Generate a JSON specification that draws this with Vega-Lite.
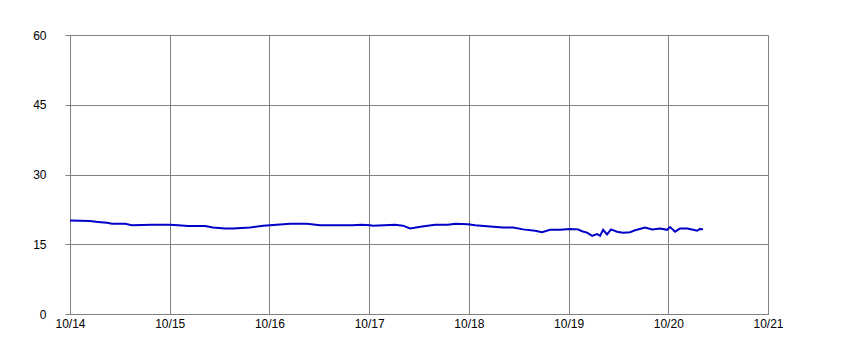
{
  "$schema": "https://vega.github.io/schema/vega-lite/v6.json",
  "width": 698,
  "height": 279,
  "autosize": {"type": "none"},
  "padding": {"left": 70, "top": 35, "right": 100, "bottom": 35},
  "background": "white",
  "config": {
    "view": {"stroke": null},
    "axis": {"labelFont": "Liberation Sans", "labelFontSize": 12, "labelColor": "#000000"}
  },
  "data": {
    "values": [
      {"t": "2021-10-14T00:00:00Z", "v": 20.1},
      {"t": "2021-10-14T04:49:00Z", "v": 20.0},
      {"t": "2021-10-14T06:44:00Z", "v": 19.8},
      {"t": "2021-10-14T08:55:00Z", "v": 19.6},
      {"t": "2021-10-14T10:07:00Z", "v": 19.4},
      {"t": "2021-10-14T13:15:00Z", "v": 19.4},
      {"t": "2021-10-14T14:55:00Z", "v": 19.1},
      {"t": "2021-10-14T19:44:00Z", "v": 19.2},
      {"t": "2021-10-15T00:00:00Z", "v": 19.2},
      {"t": "2021-10-15T02:00:00Z", "v": 19.1},
      {"t": "2021-10-15T04:25:00Z", "v": 18.9},
      {"t": "2021-10-15T08:30:00Z", "v": 18.9},
      {"t": "2021-10-15T10:25:00Z", "v": 18.6},
      {"t": "2021-10-15T13:19:00Z", "v": 18.4},
      {"t": "2021-10-15T15:14:00Z", "v": 18.4},
      {"t": "2021-10-15T19:19:00Z", "v": 18.6},
      {"t": "2021-10-15T22:28:00Z", "v": 19.0},
      {"t": "2021-10-16T00:09:00Z", "v": 19.1},
      {"t": "2021-10-16T04:58:00Z", "v": 19.4},
      {"t": "2021-10-16T09:03:00Z", "v": 19.4},
      {"t": "2021-10-16T12:11:00Z", "v": 19.1},
      {"t": "2021-10-16T17:00:00Z", "v": 19.1},
      {"t": "2021-10-16T19:53:00Z", "v": 19.1},
      {"t": "2021-10-16T22:17:00Z", "v": 19.2},
      {"t": "2021-10-17T00:13:00Z", "v": 19.1},
      {"t": "2021-10-17T00:56:00Z", "v": 19.0},
      {"t": "2021-10-17T06:14:00Z", "v": 19.2},
      {"t": "2021-10-17T08:10:00Z", "v": 19.0},
      {"t": "2021-10-17T09:50:00Z", "v": 18.4},
      {"t": "2021-10-17T12:45:00Z", "v": 18.8},
      {"t": "2021-10-17T15:52:00Z", "v": 19.2},
      {"t": "2021-10-17T18:59:00Z", "v": 19.2},
      {"t": "2021-10-17T20:41:00Z", "v": 19.4},
      {"t": "2021-10-17T23:48:00Z", "v": 19.3},
      {"t": "2021-10-18T01:29:00Z", "v": 19.1},
      {"t": "2021-10-18T05:07:00Z", "v": 18.8},
      {"t": "2021-10-18T08:14:00Z", "v": 18.6},
      {"t": "2021-10-18T10:38:00Z", "v": 18.6},
      {"t": "2021-10-18T13:03:00Z", "v": 18.2},
      {"t": "2021-10-18T15:56:00Z", "v": 17.9},
      {"t": "2021-10-18T17:37:00Z", "v": 17.6},
      {"t": "2021-10-18T19:32:00Z", "v": 18.1},
      {"t": "2021-10-18T21:57:00Z", "v": 18.1},
      {"t": "2021-10-19T00:22:00Z", "v": 18.3},
      {"t": "2021-10-19T02:17:00Z", "v": 18.2},
      {"t": "2021-10-19T03:14:00Z", "v": 17.8},
      {"t": "2021-10-19T04:28:00Z", "v": 17.5},
      {"t": "2021-10-19T05:40:00Z", "v": 16.8},
      {"t": "2021-10-19T06:52:00Z", "v": 17.2},
      {"t": "2021-10-19T07:35:00Z", "v": 16.8},
      {"t": "2021-10-19T08:18:00Z", "v": 18.1},
      {"t": "2021-10-19T09:16:00Z", "v": 17.1},
      {"t": "2021-10-19T10:13:00Z", "v": 18.2},
      {"t": "2021-10-19T11:40:00Z", "v": 17.7},
      {"t": "2021-10-19T13:07:00Z", "v": 17.5},
      {"t": "2021-10-19T14:48:00Z", "v": 17.6},
      {"t": "2021-10-19T16:00:00Z", "v": 18.0},
      {"t": "2021-10-19T18:25:00Z", "v": 18.6},
      {"t": "2021-10-19T20:07:00Z", "v": 18.2},
      {"t": "2021-10-19T22:02:00Z", "v": 18.4},
      {"t": "2021-10-19T23:43:00Z", "v": 18.1},
      {"t": "2021-10-20T00:26:00Z", "v": 18.7},
      {"t": "2021-10-20T01:38:00Z", "v": 17.7},
      {"t": "2021-10-20T02:50:00Z", "v": 18.4},
      {"t": "2021-10-20T04:32:00Z", "v": 18.4},
      {"t": "2021-10-20T05:58:00Z", "v": 18.1},
      {"t": "2021-10-20T06:56:00Z", "v": 17.9},
      {"t": "2021-10-20T07:39:00Z", "v": 18.3},
      {"t": "2021-10-20T08:22:00Z", "v": 18.2}
    ]
  },
  "mark": {"type": "line", "color": "#0000C8", "strokeWidth": 2},
  "encoding": {
    "x": {
      "field": "t", "type": "temporal",
      "scale": {"type": "utc", "domain": [{"year": 2021, "month": 10, "date": 14, "utc": true}, {"year": 2021, "month": 10, "date": 21, "utc": true}], "nice": false},
      "axis": {"orient": "bottom", "title": null, "format": "%m/%d", "tickCount": {"interval": "day", "step": 1}, "grid": true, "gridColor": "#808080", "gridOpacity": 1, "gridWidth": 1, "domain": true, "domainColor": "#808080", "domainWidth": 1, "ticks": false, "labelPadding": 4, "labelFlush": false, "labelOverlap": false}
    },
    "y": {
      "field": "v", "type": "quantitative",
      "scale": {"domain": [0, 60], "nice": false, "zero": false},
      "axis": {"orient": "left", "title": null, "values": [0, 15, 30, 45, 60], "grid": true, "gridColor": "#808080", "gridOpacity": 1, "gridWidth": 1, "domain": true, "domainColor": "#808080", "domainWidth": 1, "ticks": true, "tickSize": 5, "tickColor": "#808080", "tickWidth": 1, "labelPadding": 19, "labelFlush": false, "labelOverlap": false}
    }
  }
}
